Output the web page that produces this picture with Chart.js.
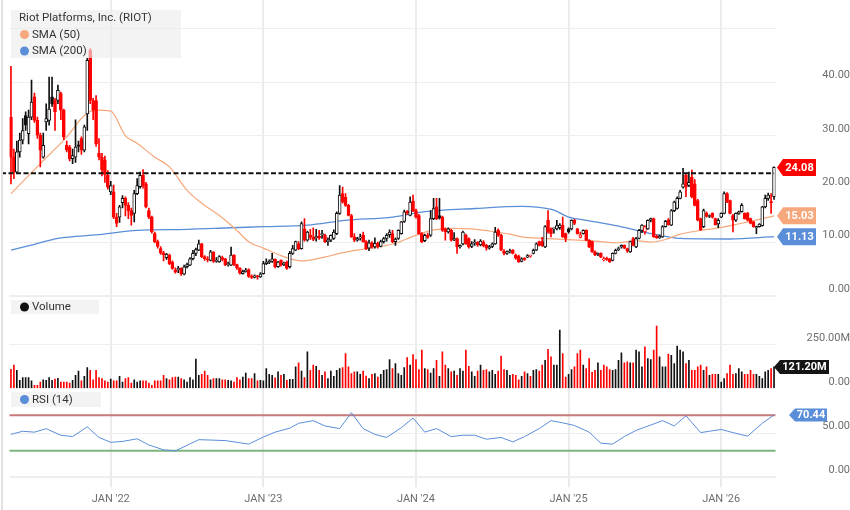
<!DOCTYPE html>
<html>
<head>
<meta charset="utf-8">
<title>Riot Platforms weekly</title>
<script src="https://cdn.jsdelivr.net/npm/chart.js@4.4.1/dist/chart.umd.min.js"></script>
<style>
  html, body { margin: 0; padding: 0; background: #fff; }
  #wrap { width: 850px; height: 510px; }
</style>
</head>
<body>
<div id="wrap"><canvas id="riotChart" width="850" height="510"></canvas></div>
<script>
// weekly candles, first week starts Monday 10 May 2021
const firstWeek = Date.UTC(2021, 4, 10);

const opens = [
  33.5,26,23.2,27,29.2,33.8,30.4,33.5,37.3,32.9,
  30.1,26,32.6,32.9,37.3,36.6,36.6,37.9,34.8,28.2,
  27.9,25.7,26,28.3,29.5,27.3,34.1,46,36.6,36.6,
  26.7,26,25.5,22.6,19.5,19.5,14.8,14.8,17.5,18.3,
  17,16,15.5,19.2,20.5,22.6,21,16,14.8,11.7,
  10.2,8.9,8.1,7.2,7.7,6.4,4.9,4.9,5.2,4.1,
  5.5,5.8,7,8,8.6,9.8,7.4,7,6.7,8.3,
  6.5,6.4,7.2,7,5.9,5.8,7.7,5.9,5.3,4.2,
  4.6,5,3.7,3.5,3.8,3.6,4.2,6.1,6.3,6.5,
  6.9,5.5,6.7,5.9,6.4,5.5,8,8.6,9.8,8.9,
  12.6,10.5,11.4,11,10.9,11.2,11.5,11.4,10.2,10.5,
  10.8,11.7,15.5,19.2,18.5,17,15.1,11.1,10.5,10.9,
  11.4,10.2,9,10,9.2,9.9,9.3,10.2,10.8,11.5,
  11.7,10.2,10.8,11.7,14,15.9,15.1,17.8,16,15.1,
  11.7,10.4,11.4,11.4,14.5,16.7,15.1,14.8,12.6,12,
  12.3,10.5,10.8,9.2,9.8,11.4,10.8,9.3,9.9,10.1,
  9.6,10.1,9.5,9,9.3,9.8,12.3,11.4,8.4,8,
  8.3,8.6,7.7,7.5,6.5,7.1,7.3,7.5,8,8.6,
  10.2,10.2,9.2,14.2,12.6,12.6,12.6,12.8,13.3,11.7,
  12.6,12.6,14.2,12.6,11,11.7,12.3,10.5,10.2,8.3,
  7.8,8,6.8,7,7,6.7,8,8.7,9.2,9.5,
  8.9,8.3,10.8,9.2,10.8,12.3,12,12.6,14.2,14.5,
  11.2,10.9,11.1,13,14.3,13.3,16,16.4,18.3,20.4,
  22.6,20.7,22.3,21,17.9,14.5,13,15.5,14.9,15.5,
  14.5,13.5,14.8,15.5,19.2,17.9,15.1,14.2,15.4,15.8,
  15.5,15.5,14.5,13.9,12.8,13,13.2,16.7,18.3,17.6,
  18.6
];
const highs = [
  43,27.5,29,30.5,33.2,34.5,34.8,40.4,38,33.5,
  30.5,30.5,36,41,41,37,39.5,38.2,35,29,
  28.2,27.5,33,29,29.8,32,44.5,46.3,37,37.5,
  29.5,26.7,26.2,23.5,21.5,20.8,15.5,17,18.8,18.6,
  17.5,16.5,19.8,22,23.2,23.7,21.3,16.5,15,12,
  10.5,9.3,8.4,8,7.9,6.6,5.3,5.6,5.3,5.8,
  6.2,7.2,8.6,9,10.5,9.9,7.6,7.4,8.6,8.3,
  7.2,7.6,7.5,7.1,6.4,9.2,7.8,6,5.3,4.9,
  5.2,5.1,4,4,3.9,4.4,6.5,7,6.8,8,
  7,6.5,6.8,6.4,6.6,8.4,9.5,10.3,10.2,13.9,
  14.5,12.2,12.5,12.8,12.5,12.3,12.3,11.6,10.9,11.5,
  12.4,15.8,20.7,20.4,19.2,17.2,15.3,11.7,11,11.6,
  12,10.4,10.5,10.2,10.9,10.1,10.5,11,11.7,12.4,
  12.3,10.9,12.4,14,16.1,16,18.6,18.9,16.3,15.3,
  11.9,11.6,11.8,16,18.3,18.3,18.3,15,12.8,12.8,
  12.5,11.9,10.9,9.6,12.2,11.6,10.9,10.2,10.6,10.2,
  10.6,10.4,9.7,9.5,10,12.9,12.6,11.6,8.7,8.5,
  8.8,8.7,7.9,7.7,7.2,7.2,7.8,7.7,8.8,10,
  10.3,11,13.2,16,12.8,12.8,14.2,13.6,14.8,11.8,
  12.8,14.3,14.4,12.7,12,12.4,12.4,10.6,10.3,8.5,
  8.1,8.1,7.3,7.3,7.1,8.1,8.8,9.2,9.6,9.6,
  9,10.3,11,11,12.5,13.4,13.2,14.3,14.6,14.6,
  11.5,11.5,13.2,14.2,14.5,16.2,17.8,18.6,19.8,23.9,
  22.8,23.2,23.6,21.8,18.1,14.6,16.3,15.8,15.2,15.6,
  14.6,14.5,15.6,19.5,19.4,18,15.3,15.6,15.9,17.3,
  15.6,15.7,14.6,14,13.1,13.6,16.8,18.9,19.3,19.2,
  24.2
];
const lows = [
  21,22,22.9,26,28.5,31,28.5,33,32.5,29.5,
  24.2,25.8,31,32,35.5,31,36,33,29.3,27,
  25.3,24.8,25,27,26.5,27,31,36,33,28,
  25.5,22.5,21.3,20,19,14.5,13,13.8,16.5,15,
  14.5,13.3,13.9,19,20.2,20.2,16.5,14.5,11.8,10,
  9,7.8,6.6,6.9,5.9,5,4.3,4.4,3.9,4,
  5.3,5.7,6.8,7.6,8.5,7.2,6.7,6.4,6.6,6.3,
  6.3,6.3,6.6,5.7,5.6,5.7,5.7,5,4.1,4.1,
  4.5,3.5,3.3,3.4,3.2,3.5,4.1,5.9,6.1,6.3,
  5.3,5.4,5.6,5.7,5,5.3,7.8,8.5,8.7,8.8,
  10.3,10.3,10.6,10.4,10.3,10.6,10.8,10,9.5,10.2,
  10.6,11.5,15.3,17.4,16.8,15,11,10.2,10.3,10.5,
  10.1,8.7,8.5,9,9,9,9.2,9.9,10.3,11,
  10,9.5,10.6,11.6,13.8,15.3,15,15.8,14.6,11.6,
  10,10.2,10.8,11.2,14.3,14.3,14.4,12.1,10.5,11.8,
  10.3,10.4,8,9,9.6,9.7,9,9.1,9.5,9.3,
  9.4,9.2,8.6,8.8,9.1,9.7,11.2,8.5,7.7,7.8,
  8.1,7.9,6.9,6.3,6.4,6.7,7.2,7.3,7.9,8.5,
  9.4,9.3,9.1,11.8,11.1,11.8,12.4,12.5,11,10.2,
  11.8,12.4,13.4,11.6,10.9,11.6,10.4,9.1,8.2,7.6,
  7.6,7.2,6.6,6.7,6.3,6.6,7.9,8.5,9,8.9,
  8.2,8.2,9.4,9.1,10.7,11.9,11.6,12.5,13.9,11,
  10.8,10.8,11,12.9,13.3,13.2,15.8,16.3,18.2,20.2,
  18.6,20.5,18.4,16.9,14.1,12.3,12.8,14.8,14.7,14.6,
  13.3,12.8,14.7,15.4,17.5,15.4,12,14,15.3,15.7,
  14.4,14.1,13.5,12.9,11.7,12.9,13.1,16.5,17.9,15.5,
  18.1
];
const closes = [
  26,23.2,27,29.2,31,32,33.5,36.3,32.9,30.1,
  27.3,28.2,33.2,35,36,34.5,38.5,34.8,29.8,27.3,
  25.7,26.3,27.9,28,27.3,31.7,44.1,36.6,34.8,28.5,
  26,23.6,22.8,20.4,20.7,14.8,13.6,16.7,18.3,17,
  16,15.1,19.2,20.7,22.6,20.7,16.7,14.8,12,10.2,
  9.3,8.1,7.7,7.9,6.1,5.2,4.5,5.2,4.2,5.5,
  5.9,7,8,8.7,9.8,7.4,7,6.8,8.3,6.5,
  6.7,7.4,6.9,5.9,6.1,7.7,5.9,5.3,4.3,4.6,
  4.9,3.7,3.5,3.8,3.6,4.2,6.1,6.4,6.5,7,
  5.5,6.4,5.8,6.2,5.2,8,8.9,10.2,8.9,13.6,
  10.5,12,11,10.6,11.2,10.9,11.7,10.2,10.5,11.4,
  12,15.5,18.9,17.6,17,15.1,11.1,10.5,10.8,11.1,
  10.2,8.9,10,9.2,9.9,9.3,10.2,10.8,11.4,12,
  10.2,10.7,12.3,13.9,15.8,15.6,17.6,16,14.8,11.7,
  10.2,11.4,11,14.5,16.4,14.5,14.6,12.3,12,12.6,
  10.5,10.8,9.2,9.5,12,9.8,9.2,9.8,10.1,9.6,
  10.3,9.4,9,9.3,9.8,12,11.4,8.6,8,8.3,
  8.5,8,7.1,6.4,7,6.9,7.6,7.5,8.6,9.8,
  9.5,9.4,13,12,11.7,12.7,13.2,13.3,11.1,10.8,
  12,14.2,13.6,11.7,11.5,12.3,10.5,9.2,8.3,7.7,
  8,7.3,7,6.9,6.4,8,8.6,8.9,9.5,9,
  8.4,10.2,9.5,10.8,12.3,13.3,13,14.2,14.5,11.1,
  10.9,11.2,13,14,13.4,16,17.6,18.3,19.5,21,
  20.4,21.3,18.6,17,14.2,12.4,16,14.9,15.1,14.8,
  13.4,14.2,15.5,19.2,17.6,15.5,14.2,15.5,15.8,17,
  14.5,14.2,13.6,13,13,13.5,16.7,18.3,18.9,17.5,
  24.08
];
// weekly volume, millions of shares
const volumes = [
  108,131,102,45,61,61,61,42,17,17,
  36,49,45,61,45,53,57,36,36,36,
  30,45,74,97,42,68,117,102,49,102,
  61,55,42,36,53,42,42,68,36,55,
  61,30,49,36,42,42,42,30,17,42,
  42,42,74,55,49,61,64,64,55,49,
  36,61,49,165,74,80,97,74,49,55,
  55,55,49,49,45,42,36,61,49,64,
  87,55,55,83,42,45,42,112,80,74,
  60,93,74,80,45,51,51,121,144,98,
  61,206,102,131,125,102,74,93,55,98,
  68,102,112,117,197,121,83,93,93,80,
  98,70,55,80,83,64,80,102,106,163,
  112,140,83,74,117,174,131,191,163,106,
  216,112,106,87,112,159,68,206,131,112,
  93,98,74,112,98,216,125,93,68,98,
  131,102,106,93,102,80,98,182,106,102,
  74,80,74,49,68,93,83,68,102,106,
  98,131,159,221,178,131,131,329,197,64,
  80,106,121,197,216,131,112,168,90,102,
  144,102,131,121,106,102,106,159,200,144,
  150,144,144,216,206,121,235,168,163,216,
  352,178,121,121,193,187,140,238,216,206,
  140,159,102,102,121,131,102,121,74,80,
  80,80,36,55,83,131,80,83,112,93,
  80,80,102,80,80,68,55,93,102,112,
  121.2
];

// moving averages (week number -> value)
const sma50Weeks = [0,10,19,25,29,34,39,43,49,54,60,65,71,77,81,86,92,99,106,112,119,125,131,137,144,150,157,163,170,174,182,190,199,207,213,218,223,228,235,240,246,251,256,260];
const sma50Vals = [19.2,24.8,29.8,33.8,34.8,34.6,30,28.6,26,24.2,19.8,17.4,15.1,12.3,10.2,9.0,7.6,6.6,7.2,8.0,8.7,9.2,9.9,11.2,12.4,12.7,12.6,12.2,11.6,11.1,10.8,10.6,10.3,10.0,10.4,10.1,10.6,11.6,12.3,12.7,13.3,13.9,14.5,15.03];
const sma200Weeks = [0,8,16,30,43,60,75,86,101,114,130,141,158,174,180,185,190,196,207,218,223,228,245,260];
const sma200Vals = [8.6,9.7,10.8,11.5,12.3,12.5,12.8,13.0,13.3,14.2,14.8,15.8,16.4,16.8,16.6,16.1,14.8,14.2,13.1,11.7,11.2,10.8,10.7,11.13];

const rsiWeeks = [0,4,8,12,17,21,26,30,34,38,43,47,52,56,64,73,81,86,90,95,98,103,107,112,116,120,124,128,133,137,141,145,150,154,158,162,167,171,175,180,184,188,192,197,201,205,209,213,218,222,226,230,235,238,242,246,251,256,260];
const rsiVals = [48.5,52,51,54.9,47.5,46,57,45,39.5,40.5,43.5,36.5,31,29.8,42.5,41.5,37.5,45.5,51,55.5,61,64,58,55,73,55,48.5,45,56,67,51,55,46,47.5,47.5,43,45,40,46,55,64,61.5,58.5,51,38.5,37.5,46,53,59,64,58,69.5,50.5,52,54,50.5,46.5,61,70.44];
const rsiLevels = [70, 30];
const resistance = 23.0;

// axis ticks
const priceTicks = [0, 10, 20, 30, 40, 50];
const volTicks = [0, 250, 500];
const rsiTicks = [0, 50, 100];

const RED = '#ff0000';
const BLACK = '#111111';
const BLUE = '#5b8ed8';
const ORANGE = '#f6a87c';
const GRID = '#eeeeee';
const NONE = 'rgba(0,0,0,0)';

const N = closes.length;
const weekDates = closes.map((c, i) => new Date(firstWeek + i * 7 * 864e5));
const weekLabels = weekDates.map(d => d.toISOString().slice(0, 10));

// label the week that holds the first Thursday of the year
function janLabel(i) {
    if (i == null || !weekDates[i]) return '';
    const thu = new Date(weekDates[i].getTime() + 3 * 864e5);
    if (thu.getUTCMonth() === 0 && thu.getUTCDate() <= 7) {
        return "JAN '" + String(thu.getUTCFullYear()).slice(2);
    }
    return '';
}

function spread(weeks, vals) {
    const out = new Array(N).fill(null);
    weeks.forEach((w, j) => { out[w] = vals[j]; });
    return out;
}

function candleColor(i) {
    const prev = i === 0 ? opens[0] : closes[i - 1];
    return closes[i] < prev ? RED : BLACK;
}

function tickVal(c) {
    return c.tick ? c.tick.value : null;
}

function drawTag(ctx, x, y, w, h, text, color) {
    ctx.beginPath();
    ctx.moveTo(x, y);
    ctx.lineTo(x + 6, y - h / 2);
    ctx.lineTo(x + 6 + w, y - h / 2);
    ctx.lineTo(x + 6 + w, y + h / 2);
    ctx.lineTo(x + 6, y + h / 2);
    ctx.closePath();
    ctx.fillStyle = color;
    ctx.fill();
    ctx.fillStyle = '#ffffff';
    ctx.font = 'bold 11px Roboto';
    ctx.textAlign = 'center';
    ctx.textBaseline = 'middle';
    ctx.fillText(text, x + 6 + w / 2, y + 0.5);
}

function legendBox(ctx, x, y, w, h) {
    ctx.fillStyle = 'rgba(236,236,236,0.65)';
    ctx.fillRect(x, y, w, h);
}

function legendItem(ctx, y, color, text) {
    ctx.beginPath();
    ctx.arc(24.5, y, 4.5, 0, Math.PI * 2);
    ctx.fillStyle = color;
    ctx.fill();
    ctx.fillStyle = '#333333';
    ctx.font = '11.5px Roboto';
    ctx.textAlign = 'left';
    ctx.textBaseline = 'middle';
    ctx.fillText(text, 32, y + 0.5);
}

const overlay = {
    id: 'overlay',
    beforeDatasetsDraw(chart) {
        const { ctx, chartArea } = chart;
        const r = chart.scales.yRsi;
        const colors = ['#c87a7a', '#7cb67c'];
        ctx.save();
        ctx.lineWidth = 2;
        rsiLevels.forEach((lv, k) => {
            const y = r.getPixelForValue(lv);
            ctx.strokeStyle = colors[k];
            ctx.beginPath();
            ctx.moveTo(chartArea.left, y);
            ctx.lineTo(chartArea.right, y);
            ctx.stroke();
        });
        ctx.restore();
    },
    afterDatasetsDraw(chart) {
        const { ctx } = chart;
        const y = chart.scales.y.getPixelForValue(resistance);
        const xEnd = chart.scales.x.getPixelForValue(N - 1);
        ctx.save();
        ctx.strokeStyle = BLACK;
        ctx.lineWidth = 2;
        ctx.setLineDash([5, 2.5]);
        ctx.beginPath();
        ctx.moveTo(1, y);
        ctx.lineTo(xEnd, y);
        ctx.stroke();
        ctx.restore();
    },
    afterDraw(chart) {
        const { ctx, chartArea } = chart;
        const ys = chart.scales.y, yv = chart.scales.yVol, yr = chart.scales.yRsi;
        ctx.save();
        // left frame line
        ctx.fillStyle = '#e2e2e2';
        ctx.fillRect(1, 0, 2, 510);

        legendBox(ctx, 11, 10, 170, 48);
        ctx.fillStyle = '#333333';
        ctx.font = '11.5px Roboto';
        ctx.textAlign = 'left';
        ctx.textBaseline = 'middle';
        ctx.fillText('Riot Platforms, Inc. (RIOT)', 19, 18);
        legendItem(ctx, 34.5, ORANGE, 'SMA (50)');
        legendItem(ctx, 51, BLUE, 'SMA (200)');

        legendBox(ctx, 11, 300, 88, 14);
        legendItem(ctx, 307, BLACK, 'Volume');
        legendBox(ctx, 11, 392, 90, 15);
        legendItem(ctx, 399.5, BLUE, 'RSI (14)');

        const right = chartArea.right;
        const s50 = sma50Vals[sma50Vals.length - 1];
        const s200 = sma200Vals[sma200Vals.length - 1];
        const rsiLast = rsiVals[rsiVals.length - 1];
        drawTag(ctx, right + 1.5, ys.getPixelForValue(closes[N - 1]), 33, 17, closes[N - 1].toFixed(2), RED);
        drawTag(ctx, right + 1.5, ys.getPixelForValue(s50), 33, 17, s50.toFixed(2), ORANGE);
        drawTag(ctx, right + 1.5, ys.getPixelForValue(s200), 33, 17, s200.toFixed(2), BLUE);
        drawTag(ctx, right - 1.5, yv.getPixelForValue(volumes[N - 1]), 49, 14, volumes[N - 1].toFixed(2) + 'M', '#151515');
        drawTag(ctx, right + 13.5, yr.getPixelForValue(rsiLast), 32, 13, rsiLast.toFixed(2), BLUE);
        ctx.restore();
    }
};

function fixY(s) {
    s.width = 74.5;
    s.paddingTop = 0;
    s.paddingBottom = 0;
}

Chart.defaults.font.family = 'Roboto, "Noto Sans", sans-serif';
Chart.defaults.font.size = 11;
Chart.defaults.color = '#6e6e6e';

const riotCtx = document.getElementById('riotChart').getContext('2d');
const riotChart = new Chart(riotCtx, {
    data: {
        labels: weekLabels,
        datasets: [
            {
                type: 'line',
                label: 'SMA (200)',
                data: spread(sma200Weeks, sma200Vals),
                yAxisID: 'y',
                borderColor: BLUE,
                borderWidth: 1.3,
                pointRadius: 0,
                spanGaps: true,
                cubicInterpolationMode: 'monotone',
                order: 6
            },
            {
                type: 'line',
                label: 'SMA (50)',
                data: spread(sma50Weeks, sma50Vals),
                yAxisID: 'y',
                borderColor: ORANGE,
                borderWidth: 1.2,
                pointRadius: 0,
                spanGaps: true,
                cubicInterpolationMode: 'monotone',
                order: 5
            },
            {
                type: 'bar',
                label: 'wick',
                data: lows.map((l, i) => [l, highs[i]]),
                yAxisID: 'y',
                backgroundColor: c => candleColor(c.dataIndex || 0),
                barThickness: 1,
                grouped: false,
                order: 3
            },
            {
                type: 'bar',
                label: 'body',
                data: opens.map((o, i) => [o, closes[i]]),
                yAxisID: 'y',
                backgroundColor: c => {
                    const i = c.dataIndex || 0;
                    return closes[i] >= opens[i] ? '#ffffff' : candleColor(i);
                },
                borderColor: c => candleColor(c.dataIndex || 0),
                borderWidth: 1,
                borderSkipped: false,
                barThickness: 3,
                minBarLength: 1,
                grouped: false,
                order: 2
            },
            {
                type: 'bar',
                label: 'Volume',
                data: volumes,
                yAxisID: 'yVol',
                backgroundColor: c => candleColor(c.dataIndex || 0),
                barThickness: 1,
                grouped: false,
                order: 2
            },
            {
                type: 'line',
                label: 'RSI (14)',
                data: spread(rsiWeeks, rsiVals),
                yAxisID: 'yRsi',
                borderColor: BLUE,
                borderWidth: 1,
                pointRadius: 0,
                spanGaps: true,
                tension: 0,
                order: 1
            }
        ]
    },
    options: {
        responsive: false,
        animation: false,
        devicePixelRatio: 1,
        layout: { padding: { left: 9.5, right: 0, top: 0, bottom: 0 } },
        plugins: {
            legend: { display: false },
            tooltip: { enabled: false }
        },
        scales: {
            x: {
                type: 'category',
                offset: true,
                border: { display: false },
                grid: {
                    offset: false,
                    color: c => janLabel(c.index) ? '#ebebeb' : NONE,
                    lineWidth: 2,
                    drawTicks: true,
                    tickLength: 10
                },
                ticks: {
                    autoSkip: false,
                    maxRotation: 0,
                    minRotation: 0,
                    padding: 5,
                    color: '#6e6e6e',
                    callback: (v, i) => janLabel(i)
                },
                afterFit: s => {
                    s.height = 32.7;
                    s.paddingLeft = 0;
                    s.paddingRight = 0;
                }
            },
            y: {
                type: 'linear',
                position: 'right',
                stack: 'panes',
                stackWeight: 296.2,
                min: 0,
                max: 55.4,
                border: { display: false },
                grid: {
                    color: GRID,
                    lineWidth: c => tickVal(c) === 0 ? 2 : 1,
                    drawTicks: false
                },
                afterBuildTicks: s => { s.ticks = priceTicks.map(v => ({ value: v })); },
                ticks: {
                    crossAlign: 'far',
                    padding: 4,
                    labelOffset: -7,
                    color: c => tickVal(c) === 50 ? NONE : '#6e6e6e',
                    callback: v => v.toFixed(2)
                },
                afterFit: fixY
            },
            yVol: {
                type: 'linear',
                position: 'right',
                stack: 'panes',
                stackWeight: 92.2,
                min: 0,
                max: 520,
                border: { display: false },
                grid: {
                    color: c => tickVal(c) === 250 ? GRID : NONE,
                    drawTicks: false
                },
                afterBuildTicks: s => { s.ticks = volTicks.map(v => ({ value: v })); },
                ticks: {
                    crossAlign: 'far',
                    padding: -1,
                    labelOffset: -6,
                    color: c => tickVal(c) === 500 ? NONE : '#6e6e6e',
                    callback: v => v === 0 ? '0.00' : v.toFixed(2) + 'M'
                },
                afterFit: fixY
            },
            yRsi: {
                type: 'linear',
                position: 'right',
                stack: 'panes',
                stackWeight: 88.9,
                min: 0,
                max: 100.4,
                border: { display: false },
                grid: {
                    color: c => tickVal(c) === 100 ? NONE : GRID,
                    lineWidth: c => tickVal(c) === 0 ? 2 : 1,
                    drawTicks: false
                },
                afterBuildTicks: s => { s.ticks = rsiTicks.map(v => ({ value: v })); },
                ticks: {
                    crossAlign: 'far',
                    padding: 9,
                    labelOffset: -7,
                    color: c => tickVal(c) === 100 ? NONE : '#6e6e6e',
                    callback: v => v.toFixed(2)
                },
                afterFit: fixY
            }
        }
    },
    plugins: [overlay]
});
</script>
</body>
</html>
